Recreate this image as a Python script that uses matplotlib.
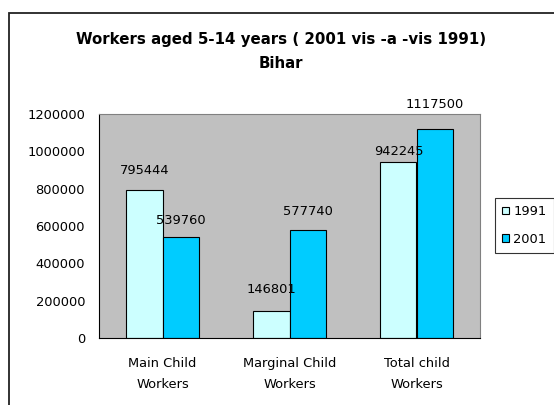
import matplotlib
matplotlib.use('Agg')
import matplotlib.pyplot as plt
from matplotlib.patches import Rectangle
import numpy as np

plt.rcParams['font.family'] = ['DejaVu Sans']

categories = ['Main Child\nWorkers', 'Marginal Child\nWorkers', 'Total child\nWorkers']
years = ['1991', '2001']
values_1991 = [795444, 146801, 942245]
values_2001 = [539760, 577740, 1117500]
colors = ['#CCFFFF', '#00CCFF']
# gap (pixels) between bar top and its data label, as in the original
label_gap_1991 = [19, 21, 11]
label_gap_2001 = [17, 19, 25]

W, H = 554, 405
fig = plt.figure(figsize=(W / 100, H / 100), dpi=100)
# outer chart frame (cut off at right and bottom as in the original)
fig.patches.append(Rectangle((9 / W, -0.1), 1.2, 1.1 - 13 / H,
                             transform=fig.transFigure, fill=False,
                             edgecolor='#222222', linewidth=1.3))

ax = fig.add_axes([99 / W, 1 - 338 / H, (480 - 99) / W, (338 - 114) / H])
ax.set_facecolor('#C0C0C0')

fs = 9.4
x = np.arange(len(categories))
w = 0.285
b1 = ax.bar(x - w / 2, values_1991, w, color=colors[0], edgecolor='black', linewidth=0.8, label=years[0])
b2 = ax.bar(x + w / 2, values_2001, w, color=colors[1], edgecolor='black', linewidth=0.8, label=years[1])
for bars, gaps in ((b1, label_gap_1991), (b2, label_gap_2001)):
    for r, g in zip(bars, gaps):
        ax.annotate(f'{int(r.get_height())}', (r.get_x() + r.get_width() / 2, r.get_height()),
                    xytext=(0, g * 0.72), textcoords='offset points',
                    ha='center', va='center', fontsize=fs)

ax.set_xlim(-0.5, 2.5)
ax.set_ylim(0, 1200000)
yt = list(range(0, 1200001, 200000))
ax.set_yticks(yt)
ax.set_yticklabels([str(v) for v in yt], fontsize=fs)
ax.set_xticks(x)
ax.set_xticklabels(categories, fontsize=fs, linespacing=1.75)
ax.tick_params(axis='y', length=0, pad=10)
ax.tick_params(axis='x', length=0, pad=14)
for s in ('top', 'right'):
    ax.spines[s].set_color('#808080')
for s in ('left', 'bottom'):
    ax.spines[s].set_color('black')

fig.text(281 / W, 1 - 44 / H, 'Workers aged 5-14 years ( 2001 vis -a -vis 1991)',
         ha='center', va='baseline', fontsize=10.8, fontweight='bold')
fig.text(281 / W, 1 - 68 / H, 'Bihar', ha='center', va='baseline', fontsize=10.8, fontweight='bold')

leg = fig.legend(loc='upper left', bbox_to_anchor=(495 / W, 1 - 198 / H), fontsize=fs,
                 frameon=True, fancybox=False, edgecolor='black', handlelength=0.55,
                 handleheight=0.55, handletextpad=0.3, borderpad=0.55, labelspacing=1.1,
                 borderaxespad=0)
leg.get_frame().set_linewidth(0.8)

fig.savefig('out.png', dpi=100)
